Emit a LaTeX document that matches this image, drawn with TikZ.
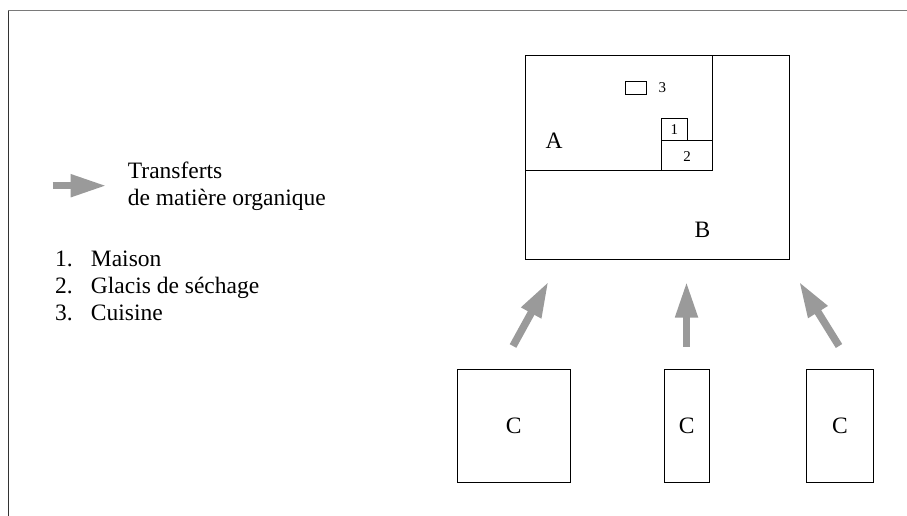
\documentclass[tikz,border=0pt]{standalone}
\usepackage{fontspec}
\setmainfont{Liberation Serif}
\usetikzlibrary{arrows.meta}
\definecolor{flowgray}{HTML}{9A9A9A}
\definecolor{framegray}{HTML}{7A7A7A}
\definecolor{framedark}{HTML}{333333}
\begin{document}
\begin{tikzpicture}[x=1pt,y=-1pt,
  box/.style={draw=black, line width=1pt},
  cbox/.style={draw=black, line width=1pt, inner sep=0pt, font=\fontsize{23.5}{27}\selectfont},
  flow/.style={draw=flowgray, line width=7.5pt, -{Triangle[length=36pt,width=21pt]}},
  lbl/.style={font=\fontsize{23.5}{27}\selectfont, inner sep=0pt},
  small/.style={font=\fontsize{15}{18}\selectfont, inner sep=0pt}]
\useasboundingbox (0,0) rectangle (907,516);

% page frame (top and left edges)
\draw[framegray, line width=1.3pt] (8,10.7) -- (907,10.7);
\draw[framedark, line width=1pt] (8,10.7) -- (8,516);

% legend
\coordinate (lt) at (52.7,185.7);
\coordinate (lh) at (106.7,185.7);
\draw[flow] (lt) -- (lh);
\node[lbl, anchor=base west] (leg1) at (127.7,178.3) {Transferts};
\node[lbl, anchor=base west] (leg2) at (127.7,205.3) {de matière organique};
\node[lbl, anchor=base west] (n1) at (55,266) {1.};
\node[lbl, anchor=base west] (i1) at (90.7,266) {Maison};
\node[lbl, anchor=base west] (n2) at (55,293.3) {2.};
\node[lbl, anchor=base west] (i2) at (90.7,293.3) {Glacis de séchage};
\node[lbl, anchor=base west] (n3) at (55,320.6) {3.};
\node[lbl, anchor=base west] (i3) at (90.7,320.6) {Cuisine};

% holding: outer field B and home area A
\draw[box] (525.3,55.7) rectangle (789.3,259.3);
\draw[box] (525.3,170.7) -- (712.7,170.7) -- (712.7,55.7);
\draw[box] (661.3,118.7) rectangle (687.3,140.7);
\draw[box] (661.3,140.7) rectangle (712.7,170.7);
\draw[box] (625,81.7) rectangle (646,94.7);
\node[small] (k1) at (674.3,130) {1};
\node[small] (k2) at (687,156.5) {2};
\node[small, anchor=west] (k3) at (658.5,88) {3};
\node[lbl, anchor=base] (la) at (554,149) {A};
\node[lbl, anchor=base] (lb) at (702.5,237.7) {B};

% outlying fields C
\node[cbox, minimum width=112.5pt, minimum height=113pt] (c1) at (513.75,426) {C};
\node[cbox, minimum width=45.5pt, minimum height=113pt] (c2) at (686.75,426) {C};
\node[cbox, minimum width=66.5pt, minimum height=113pt] (c3) at (840,426) {C};

% transfers of organic matter
\coordinate (t1) at (513,346);
\coordinate (h1) at (548.5,281.5);
\coordinate (t2) at (686.5,346.5);
\coordinate (h2) at (686.5,281.5);
\coordinate (t3) at (839,346);
\coordinate (h3) at (799,281.5);
\draw[flow] (t1) -- (h1);
\draw[flow] (t2) -- (h2);
\draw[flow] (t3) -- (h3);
\end{tikzpicture}
\end{document}
